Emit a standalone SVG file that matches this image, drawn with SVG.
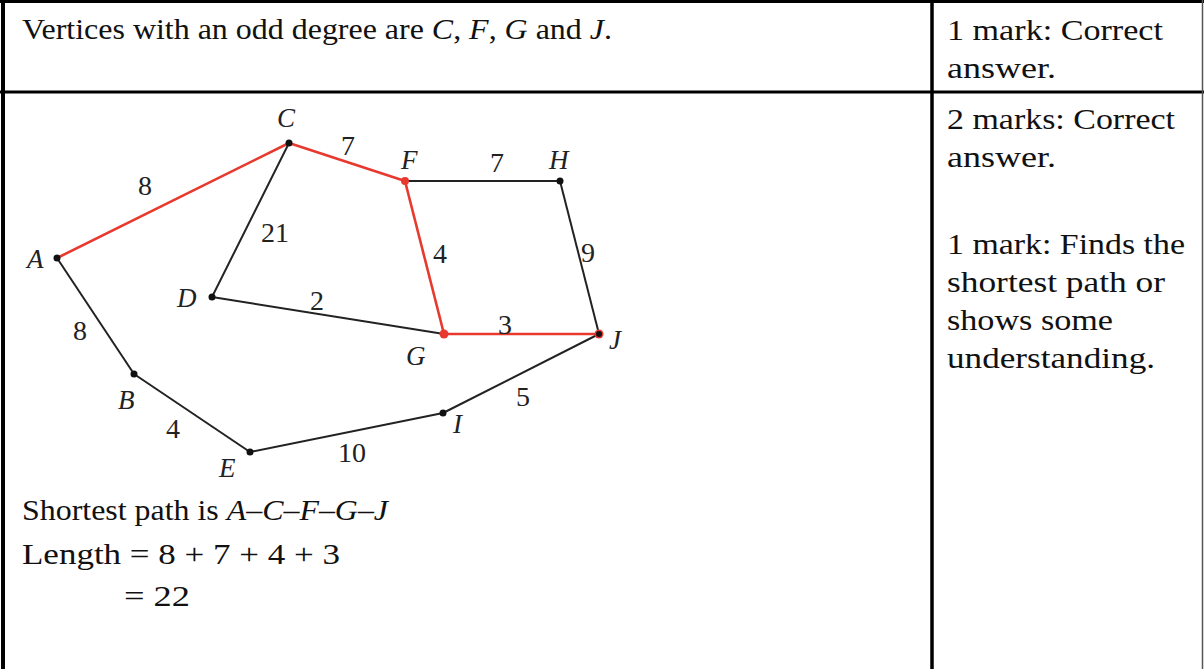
<svg xmlns="http://www.w3.org/2000/svg" width="1204" height="669" viewBox="0 0 1204 669">
<style>
.t{font-family:"Liberation Serif","DejaVu Serif",serif;font-size:30px;fill:#111}
.i{font-style:italic}
.v{font-family:"Liberation Serif","DejaVu Serif",serif;font-style:italic;font-size:27px;fill:#222}
.w{font-family:"Liberation Serif","DejaVu Serif",serif;font-size:28px;fill:#222;text-anchor:middle}
.e{stroke:#222;stroke-width:2;fill:none}
.r{stroke:#e8392f;stroke-width:2.6;fill:none}
.dot{fill:#111}
.rdot{fill:#e8392f}
</style>
<rect width="1204" height="669" fill="#fff"/>
<g id="table" stroke="#000" fill="none">
<line x1="3" y1="0" x2="3" y2="669" stroke-width="4"/>
<line x1="0" y1="1.5" x2="1204" y2="1.5" stroke-width="3"/>
<line x1="0" y1="92" x2="1204" y2="92" stroke-width="3"/>
<line x1="932" y1="0" x2="932" y2="669" stroke-width="3.5"/>
<line x1="1202.5" y1="0" x2="1202.5" y2="669" stroke-width="1.5" stroke="#555"/>
</g>
<g id="cell-top-left">
<text class="t" x="22" y="39" textLength="590" lengthAdjust="spacingAndGlyphs">Vertices with an odd degree are <tspan class="i">C</tspan>, <tspan class="i">F</tspan>, <tspan class="i">G</tspan> and <tspan class="i">J</tspan>.</text>
</g>
<g id="cell-top-right">
<text class="t" x="947" y="40" textLength="216" lengthAdjust="spacingAndGlyphs">1 mark: Correct</text>
<text class="t" x="947" y="78" textLength="109" lengthAdjust="spacingAndGlyphs">answer.</text>
</g>
<g id="cell-bottom-right">
<text class="t" x="947" y="129" textLength="228" lengthAdjust="spacingAndGlyphs">2 marks: Correct</text>
<text class="t" x="947" y="167" textLength="109" lengthAdjust="spacingAndGlyphs">answer.</text>
<text class="t" x="947" y="254" textLength="238" lengthAdjust="spacingAndGlyphs">1 mark: Finds the</text>
<text class="t" x="947" y="292" textLength="218" lengthAdjust="spacingAndGlyphs">shortest path or</text>
<text class="t" x="947" y="330" textLength="166" lengthAdjust="spacingAndGlyphs">shows some</text>
<text class="t" x="947" y="368" textLength="208" lengthAdjust="spacingAndGlyphs">understanding.</text>
</g>
<g id="connectors">
<line class="e" x1="289" y1="143" x2="212" y2="297"/>
<line class="e" x1="212" y1="297" x2="444" y2="334"/>
<line class="e" x1="405" y1="181" x2="560" y2="181"/>
<line class="e" x1="560" y1="181" x2="599" y2="334"/>
<line class="e" x1="57" y1="258" x2="134" y2="374"/>
<line class="e" x1="134" y1="374" x2="250" y2="452"/>
<line class="e" x1="250" y1="452" x2="443" y2="413"/>
<line class="e" x1="443" y1="413" x2="599" y2="334"/>
<line class="r" x1="57" y1="258" x2="289" y2="143"/>
<line class="r" x1="289" y1="143" x2="405" y2="181"/>
<line class="r" x1="405" y1="181" x2="444" y2="334"/>
<line class="r" x1="444" y1="334" x2="599" y2="334"/>
<text class="w" x="145" y="195">8</text>
<text class="w" x="348" y="155">7</text>
<text class="w" x="497" y="172">7</text>
<text class="w" x="275" y="242">21</text>
<text class="w" x="440" y="263">4</text>
<text class="w" x="588" y="262">9</text>
<text class="w" x="317" y="310">2</text>
<text class="w" x="505" y="334">3</text>
<text class="w" x="80" y="340">8</text>
<text class="w" x="173" y="438">4</text>
<text class="w" x="352" y="462">10</text>
<text class="w" x="523" y="406">5</text>
</g>
<g id="node-A"><circle class="dot" cx="57" cy="258" r="3.5"/><text class="v" x="27" y="268">A</text></g>
<g id="node-B"><circle class="dot" cx="134" cy="374" r="3.5"/><text class="v" x="118" y="409">B</text></g>
<g id="node-C"><circle class="dot" cx="289" cy="143" r="3.5"/><text class="v" x="277" y="127">C</text></g>
<g id="node-D"><circle class="dot" cx="212" cy="297" r="3.5"/><text class="v" x="177" y="307">D</text></g>
<g id="node-E"><circle class="dot" cx="250" cy="452" r="3.5"/><text class="v" x="219" y="477">E</text></g>
<g id="node-F"><circle class="rdot" cx="405" cy="181" r="4"/><text class="v" x="401" y="169">F</text></g>
<g id="node-G"><circle class="rdot" cx="444" cy="334" r="4.5"/><text class="v" x="406" y="365">G</text></g>
<g id="node-H"><circle class="dot" cx="560" cy="181" r="3.5"/><text class="v" x="549" y="169">H</text></g>
<g id="node-I"><circle class="dot" cx="443" cy="413" r="3.5"/><text class="v" x="453" y="433">I</text></g>
<g id="node-J"><circle class="rdot" cx="599" cy="334" r="4.5"/><circle class="dot" cx="599" cy="334" r="3"/><text class="v" x="609" y="349">J</text></g>
<g id="cell-bottom-left">
<text class="t" x="22" y="520" textLength="366" lengthAdjust="spacingAndGlyphs">Shortest path is <tspan class="i">A–C–F–G–J</tspan></text>
<text class="t" x="22" y="564" textLength="318" lengthAdjust="spacingAndGlyphs">Length = 8 + 7 + 4 + 3</text>
<text class="t" x="124" y="606" textLength="66" lengthAdjust="spacingAndGlyphs">= 22</text>
</g>
</svg>
